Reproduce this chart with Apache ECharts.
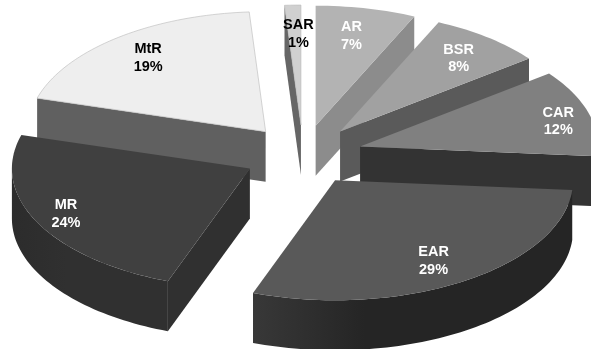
<!DOCTYPE html>
<html>
<head>
<meta charset="utf-8">
<style>html,body{margin:0;padding:0;background:#fff}#c{width:591px;height:349px}</style>
<script src="https://cdn.jsdelivr.net/npm/echarts@6/dist/echarts.min.js"></script>
</head>
<body>
<div id="c"></div>
<script>
const categories = ['AR','BSR','CAR','EAR','MR','MtR','SAR'];
const values = [6.8,7.8,11.7,29.3,23.9,19.4,1.1];
const topColors  = ['#b3b3b3','#a1a1a1','#808080','#595959','#404040','#eeeeee','#d0d0d0'];
const wallColors = ['#8c8c8c','#5a5a5a','#333333','#252525','#303030','#606060','#666666'];
const rimStartColors = ['#8c8c8c','#5a5a5a','#333333','#383838','#2c2c2c','#606060','#666666'];
const labelColors = ['#ffffff','#ffffff','#ffffff','#ffffff','#ffffff','#000000','#000000'];
const labelNudgeX = [-4.5,0,15.5,-4,-14,2,4];
const labelNudgeY = [4,2,2,0,2,1,5];

const CX = 303, CY = 155, RX = 238, RY = 120, DEPTH = 50, EXPLODE = 0.25, LABEL_F = 0.8;
const total = values.reduce((a,b)=>a+b,0);
const rad = d => d*Math.PI/180;
const px = t => Math.sin(rad(t))*RX;
const py = t => -Math.cos(rad(t))*RY;

const spans = [];
let acc = 0;
values.forEach(v => { const s = acc/total*360; acc += v; spans.push([s, acc/total*360]); });
const rank = spans.map(s => -Math.cos(rad((s[0]+s[1])/2)));
const sortedRank = rank.slice().sort((a,b)=>a-b);

function arcPoints(ax, ay, a, b, dy) {
  const pts = [];
  const n = Math.max(2, Math.ceil(Math.abs(b-a)/1.5));
  for (let i=0;i<=n;i++){ const t = a+(b-a)*i/n; pts.push([ax+px(t), ay+py(t)+dy]); }
  return pts;
}

function renderItem(params, api) {
  const i = params.dataIndex;
  const val = api.value(0);
  const [s,e] = spans[i];
  const mid = (s+e)/2;
  const ax = CX + EXPLODE*px(mid), ay = CY + EXPLODE*py(mid);
  const z = 10 + sortedRank.indexOf(rank[i])*10;
  const children = [];
  const wall = (pts, fill, dz) => children.push({type:'polygon', z2:z+dz, shape:{points:pts},
      style:{fill:fill, stroke:null}});
  // radial cut faces that face the viewer
  const radial = t => {
    const o = [ax+px(t), ay+py(t)];
    wall([[ax,ay],o,[o[0],o[1]+DEPTH],[ax,ay+DEPTH]], wallColors[i], 0);
  };
  if (e > 0 && e < 180) radial(e);
  if (s > 180 && s < 360) radial(s);
  // outer rim on the near half of the ellipse
  const a0 = Math.max(s,90), b0 = Math.min(e,270);
  if (b0 > a0) {
    const up = arcPoints(ax,ay,a0,b0,0), lo = arcPoints(ax,ay,a0,b0,DEPTH).reverse();
    const fill = new echarts.graphic.LinearGradient(0,0,1,0,[
      {offset:0, color:rimStartColors[i]},
      {offset:0.35, color:wallColors[i]},
      {offset:1, color:wallColors[i]}
    ]);
    wall(up.concat(lo), fill, 1);
  }
  // top face
  const top = [[ax,ay]].concat(arcPoints(ax,ay,s,e,0));
  const light = i >= 5;
  children.push({type:'polygon', z2:z+2, shape:{points:top},
    style:{fill:topColors[i], stroke: light ? '#b8b8b8' : null, lineWidth: light ? 0.6 : 0}});
  // label
  children.push({type:'text', z2:200, style:{
    text: categories[i] + '\n' + Math.round(val) + '%',
    x: ax + LABEL_F*px(mid) + labelNudgeX[i],
    y: ay + LABEL_F*py(mid) + labelNudgeY[i],
    fill: labelColors[i], align:'center', verticalAlign:'middle',
    font:'bold 14.5px "Liberation Sans", Arial, sans-serif', lineHeight:17.5
  }});
  return {type:'group', children};
}

const chart = echarts.init(document.getElementById('c'), null, {renderer:'canvas'});
chart.setOption({
  animation:false,
  backgroundColor:'#ffffff',
  series:[{
    type:'custom',
    coordinateSystem:'none',
    renderItem,
    data: categories.map((n,i)=>({name:n, value:[values[i]]}))
  }]
});
</script>
</body>
</html>
